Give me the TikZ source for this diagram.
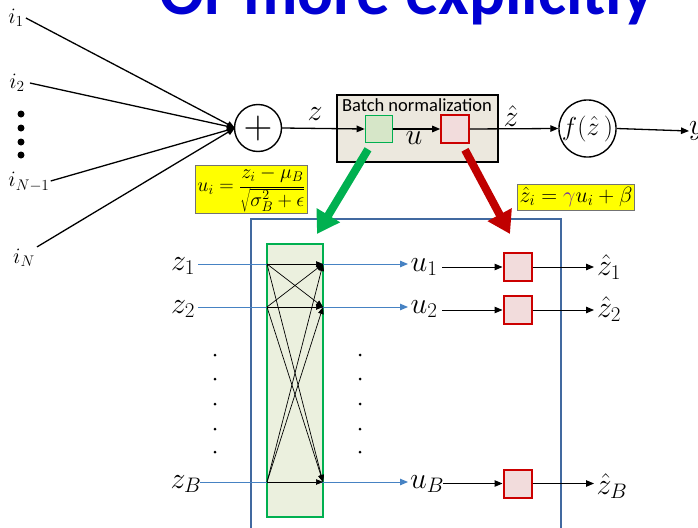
\RequirePackage{fix-cm}
\documentclass[tikz,border=0pt]{standalone}
\usepackage{fontspec}
\newfontfamily\calfont{Carlito}
\usetikzlibrary{arrows.meta}
\definecolor{titleblue}{RGB}{0,0,210}
\definecolor{bnfill}{RGB}{236,232,222}
\definecolor{gbord}{RGB}{0,176,80}
\definecolor{gfill}{RGB}{214,230,200}
\definecolor{gfill2}{RGB}{235,240,222}
\definecolor{rbord}{RGB}{204,0,0}
\definecolor{rfill}{RGB}{242,220,220}
\definecolor{frameblue}{RGB}{65,105,160}
\definecolor{lblue}{RGB}{70,130,195}
\definecolor{arrgreen}{RGB}{0,176,80}
\definecolor{arrred}{RGB}{192,0,0}
\definecolor{ybox}{RGB}{255,255,0}
\definecolor{gampurple}{RGB}{112,48,160}
\tikzset{
  inp/.style={inner sep=0pt, font=\fontsize{22}{26}\selectfont},
  lbl/.style={inner sep=0pt, font=\fontsize{30}{32}\selectfont},
  arr/.style={-{Triangle[length=8pt,width=6.5pt]}, line width=1.3pt},
  thinarr/.style={-{Triangle[length=7pt,width=5.5pt]}, line width=0.7pt},
  bluearr/.style={-{Triangle[length=8pt,width=6.5pt]}, line width=1pt, draw=lblue, color=lblue},
  gsq/.style={draw=gbord, fill=gfill, line width=1.6pt, minimum width=27, minimum height=27, inner sep=0pt},
  rsq/.style={draw=rbord, fill=rfill, line width=1.6pt, minimum width=28, minimum height=28, inner sep=0pt},
  yel/.style={draw=black!55, fill=ybox, line width=0.6pt, inner sep=1pt},
  bigarr/.style={line width=8pt, -{Triangle[length=22pt,width=26pt]}},
}
\begin{document}
\begin{tikzpicture}[x=1pt,y=-1pt]
\useasboundingbox (0,0) rectangle (698,527);
% title (cut at top)
\node[anchor=base west, inner sep=0pt, text=titleblue, font=\fontsize{67}{67}\selectfont\calfont\bfseries] (title) at (159,15) {Or more explicitly};
% inputs
\node[inp] (i1) at (16,18) {$i_1$};
\node[inp] (i2) at (17,83) {$i_2$};
\node[inp] (iN1) at (29,182) {$i_{N-1}$};
\node[inp] (iN) at (24,258) {$i_N$};
\foreach \yy/\nm in {114/d1,128/d2,142/d3,155/d4}
  \node[circle, fill=black, inner sep=0pt, minimum size=7pt] (\nm) at (21,\yy) {};
% sum
\node[circle, draw, line width=1.4pt, minimum size=47pt, inner sep=0pt, font=\fontsize{40}{40}\selectfont] (sum) at (258,128) {$+$};
\coordinate (conv) at (235,128);
\draw[arr] ([xshift=2pt]i1.east) -- (conv);
\draw[arr] ([xshift=5pt]i2.east) -- (conv);
\draw[arr] ([xshift=1pt,yshift=1pt]iN1.east) -- (conv);
\draw[arr] ([xshift=2pt,yshift=2pt]iN.north east) -- (conv);
% batch norm box
\node[draw, line width=2.6pt, fill=bnfill, minimum width=161, minimum height=67, inner sep=0pt] (bn) at (417.5,128.5) {};
\node[inner sep=0pt, font=\fontsize{18.5}{18.5}\selectfont\calfont] (bntext) at (417,105) {Batch normalization};
\node[gsq] (gsq) at (379,129) {};
\node[rsq] (rsq) at (455,129) {};
\draw[arr] (sum.east) -- (gsq.west);
\node[lbl] (zl) at (315,114) {$z$};
\draw[arr] (gsq.east) -- (rsq.west);
\node[lbl] (ul) at (414,138) {$u$};
% f circle
\node[circle, draw, line width=1.4pt, minimum size=56pt, inner sep=0pt, font=\fontsize{26}{26}\selectfont] (f) at (587.5,128.5) {$f(\hat{z}\,)$};
\draw[arr] (rsq.east) -- (f.west);
\node[lbl] (zhl) at (511,116) {$\hat{z}$};
\node[lbl, anchor=west] (yl) at (689,131) {$y$};
\draw[arr] (f.east) -- (yl.west);
% formula boxes
\node[yel, minimum width=112, minimum height=45, font=\fontsize{20}{20}\selectfont] (f1) at (251.5,189.5) {$u_i=\displaystyle\frac{z_i-\mu_B}{\sqrt{\sigma_B^2+\epsilon}}$};
\node[yel, minimum width=117, minimum height=26, font=\fontsize{22}{22}\selectfont] (f2) at (576,197) {$\hat{z}_i=\textcolor{gampurple}{\gamma}u_i+\beta$};
% blue frame
\node[draw=frameblue, line width=2.4pt, minimum width=310, minimum height=330, inner sep=0pt, anchor=north west] (frame) at (249.5,217.5) {};
% big arrows
\coordinate (gtip) at (317,234);
\coordinate (rtip) at (510,234);
\draw[bigarr, arrgreen] (gsq.south) ++(-11,6) coordinate (gstart) (gstart) -- (gtip);
\draw[bigarr, arrred] (rsq.south) ++(10,6) coordinate (rstart) (rstart) -- (rtip);
% green tall rectangle
\node[draw=gbord, fill=gfill2, line width=2.4pt, minimum width=56, minimum height=273, inner sep=0pt] (grect) at (295,380.5) {};
% z labels
\node[lbl] (z1) at (183,266) {$z_1$};
\node[lbl] (z2) at (183,309) {$z_2$};
\node[lbl] (zB) at (186,484) {$z_B$};
\node[lbl] (u1) at (424,267) {$u_1$};
\node[lbl] (u2) at (424,309) {$u_2$};
\node[lbl] (uB) at (427,484) {$u_B$};
\node[lbl] (zh1) at (609,267) {$\hat{z}_1$};
\node[lbl] (zh2) at (609,309) {$\hat{z}_2$};
\node[lbl] (zhB) at (612,486) {$\hat{z}_B$};
% blue arrows
\coordinate (bz1) at (198,264); \coordinate (bz2) at (198,307); \coordinate (bzB) at (200,482);
\coordinate (bu1) at (408,264); \coordinate (bu2) at (408,307); \coordinate (buB) at (408,482);
\draw[bluearr] (bz1) -- (bu1);
\draw[bluearr] (bz2) -- (bu2);
\draw[bluearr] (bzB) -- (buB);
% cross arrows
\coordinate (L1) at (267,264); \coordinate (L2) at (267,307); \coordinate (LB) at (267,482);
\coordinate (R1) at (323,264); \coordinate (R2) at (323,307); \coordinate (RB) at (323,482);
\foreach \a in {L1,L2,LB}
  \foreach \b in {R1,R2,RB}
    \draw[thinarr] (\a) -- (\b);
% dots
\foreach \yy in {355,379,404,429,452}{
  \fill (215,\yy) circle (1.5pt);
  \fill (360,\yy) circle (1.5pt);
}
% red squares
\node[rsq, line width=2pt] (r1) at (517.5,267) {};
\node[rsq, line width=2pt] (r2) at (517.5,310) {};
\node[rsq, line width=2pt] (rB) at (517.5,483.5) {};
\coordinate (a1) at (442,267); \coordinate (a2) at (442,310); \coordinate (aB) at (443,483.5);
\coordinate (b1) at (594,267); \coordinate (b2) at (594,310); \coordinate (bB) at (594,483.5);
\draw[arr, line width=1pt] (a1) -- (r1.west);
\draw[arr, line width=1pt] (a2) -- (r2.west);
\draw[arr, line width=1pt] (aB) -- (rB.west);
\draw[arr, line width=1pt] (r1.east) -- (b1);
\draw[arr, line width=1pt] (r2.east) -- (b2);
\draw[arr, line width=1pt] (rB.east) -- (bB);
\end{tikzpicture}
\end{document}
